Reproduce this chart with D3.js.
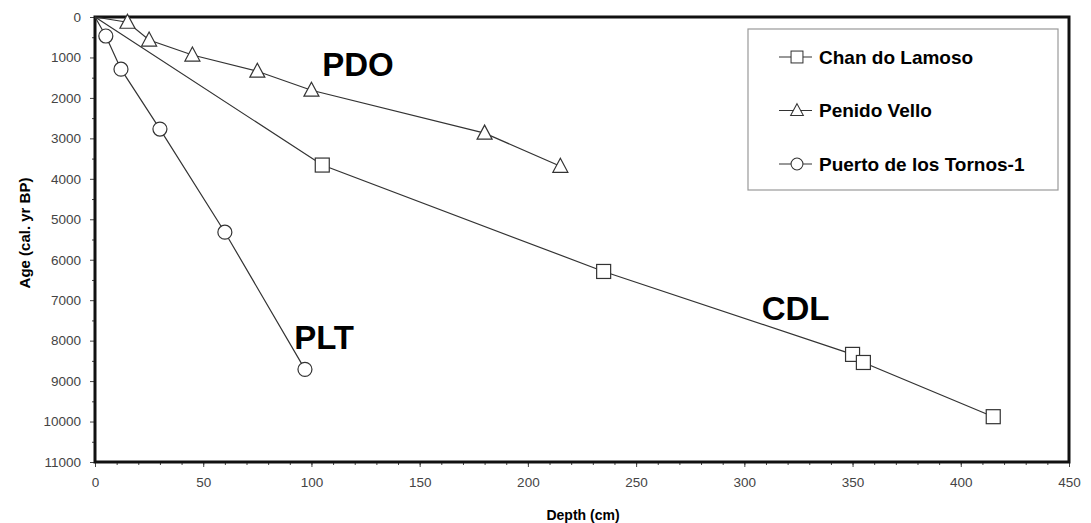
<!DOCTYPE html>
<html>
<head>
<meta charset="utf-8">
<script src="https://cdn.jsdelivr.net/npm/d3@7"></script>
<style>
  body { margin: 0; background: #fff; }
  svg { display: block; }
</style>
</head>
<body>
<div id="chart"></div>
<script>
// depth (cm) / age (cal. yr BP) pairs; first pair is the surface
const cdlDepth = [0, 105, 235, 350, 355, 415];
const cdlAge   = [0, 3660, 6290, 8340, 8540, 9880];
const pdvDepth = [0, 15, 25, 45, 75, 100, 180, 215];
const pdvAge   = [0, 130, 570, 940, 1340, 1810, 2870, 3690];
const pltDepth = [0, 5, 12, 30, 60, 97];
const pltAge   = [0, 470, 1290, 2770, 5320, 8710];

const seriesNames = ["Chan do Lamoso", "Penido Vello", "Puerto de los Tornos-1"];
const siteLabels = ["CDL", "PDO", "PLT"];
const xTicks = [0, 50, 100, 150, 200, 250, 300, 350, 400, 450];
const yTicks = [0, 1000, 2000, 3000, 4000, 5000, 6000, 7000, 8000, 9000, 10000, 11000];

const width = 1091, height = 523;
const margin = {top: 17, right: 22, bottom: 61, left: 95};

const svg = d3.select("#chart").append("svg")
    .attr("width", width)
    .attr("height", height);

const x = d3.scaleLinear().domain([0, 450]).range([margin.left, width - margin.right]);
const y = d3.scaleLinear().domain([0, 11000]).range([margin.top, height - margin.bottom]);

const font = "'Liberation Sans', Arial, sans-serif";

// minor ticks
svg.append("g")
    .attr("transform", "translate(0," + y.range()[1] + ")")
    .call(d3.axisBottom(x).tickValues(d3.range(0, 451, 10)).tickSize(3).tickFormat(""))
    .call(g => g.select(".domain").remove())
    .selectAll("line").attr("stroke", "#444");
svg.append("g")
    .attr("transform", "translate(" + x.range()[0] + ",0)")
    .call(d3.axisLeft(y).tickValues(d3.range(500, 11000, 1000)).tickSize(3).tickFormat(""))
    .call(g => g.select(".domain").remove())
    .selectAll("line").attr("stroke", "#444");

// major ticks + labels
const xAxis = svg.append("g")
    .attr("transform", "translate(0," + y.range()[1] + ")")
    .call(d3.axisBottom(x).tickValues(xTicks).tickSize(5).tickPadding(10));
xAxis.select(".domain").remove();
xAxis.selectAll("text").attr("font-family", font).attr("font-size", 13.5).attr("fill", "#444");
xAxis.selectAll("line").attr("stroke", "#444");

const yAxis = svg.append("g")
    .attr("transform", "translate(" + x.range()[0] + ",0)")
    .call(d3.axisLeft(y).tickValues(yTicks).tickSize(5).tickPadding(9).tickFormat(d3.format("d")));
yAxis.select(".domain").remove();
yAxis.selectAll("text").attr("font-family", font).attr("font-size", 13.5).attr("fill", "#444");
yAxis.selectAll("line").attr("stroke", "#444");

// frame
svg.append("rect")
    .attr("x", x.range()[0])
    .attr("y", y.range()[0])
    .attr("width", x.range()[1] - x.range()[0])
    .attr("height", y.range()[1] - y.range()[0])
    .attr("fill", "none")
    .attr("stroke", "#111")
    .attr("stroke-width", 3);

// axis titles
svg.append("text")
    .attr("x", (x(0) + x(450)) / 2 + 1)
    .attr("y", 520)
    .attr("text-anchor", "middle")
    .attr("font-family", font).attr("font-weight", "bold").attr("font-size", 14)
    .text("Depth (cm)");
svg.append("text")
    .attr("transform", "translate(30,233) rotate(-90)")
    .attr("text-anchor", "middle")
    .attr("font-family", font).attr("font-weight", "bold").attr("font-size", 15)
    .text("Age (cal. yr BP)");

const series = [
  {name: seriesNames[0], depth: cdlDepth, age: cdlAge, shape: "square"},
  {name: seriesNames[1], depth: pdvDepth, age: pdvAge, shape: "triangle"},
  {name: seriesNames[2], depth: pltDepth, age: pltAge, shape: "circle"}
];

const line = d3.line().x(d => x(d[0])).y(d => y(d[1]));

function drawMarker(g, shape) {
  if (shape === "square") {
    g.append("rect").attr("x", -7).attr("y", -7).attr("width", 14).attr("height", 14);
  } else if (shape === "triangle") {
    g.append("path").attr("d", "M0,-8L7.5,6L-7.5,6Z");
  } else {
    g.append("circle").attr("r", 7);
  }
  g.attr("fill", "#fff").attr("stroke", "#333").attr("stroke-width", 1.2);
}

series.forEach(s => {
  const pts = s.depth.map((d, i) => [d, s.age[i]]);
  svg.append("path")
      .datum(pts)
      .attr("d", line)
      .attr("fill", "none")
      .attr("stroke", "#333")
      .attr("stroke-width", 1.2);
  pts.filter(p => p[1] > 0).forEach(p => {
    const g = svg.append("g").attr("transform", "translate(" + x(p[0]) + "," + y(p[1]) + ")");
    drawMarker(g, s.shape);
  });
});

// site labels
const labelPos = [[308, 7500], [105, 1450], [92, 8200]];
siteLabels.forEach((t, i) => {
  svg.append("text")
      .attr("x", x(labelPos[i][0]))
      .attr("y", y(labelPos[i][1]))
      .attr("font-family", font).attr("font-weight", "bold").attr("font-size", 33)
      .text(t);
});

// legend
const legend = svg.append("g");
legend.append("rect")
    .attr("x", 748).attr("y", 29).attr("width", 310).attr("height", 161)
    .attr("fill", "#fff").attr("stroke", "#999").attr("stroke-width", 1.2);
series.forEach((s, i) => {
  const cy = 57 + i * 53.5;
  legend.append("line")
      .attr("x1", 779).attr("x2", 812).attr("y1", cy).attr("y2", cy)
      .attr("stroke", "#333").attr("stroke-width", 1.2);
  drawMarker(legend.append("g").attr("transform", "translate(797," + cy + ") scale(0.85)"), s.shape);
  legend.append("text")
      .attr("x", 819).attr("y", cy).attr("dy", "0.35em")
      .attr("font-family", font).attr("font-weight", "bold").attr("font-size", 19)
      .text(s.name);
});
</script>
</body>
</html>
